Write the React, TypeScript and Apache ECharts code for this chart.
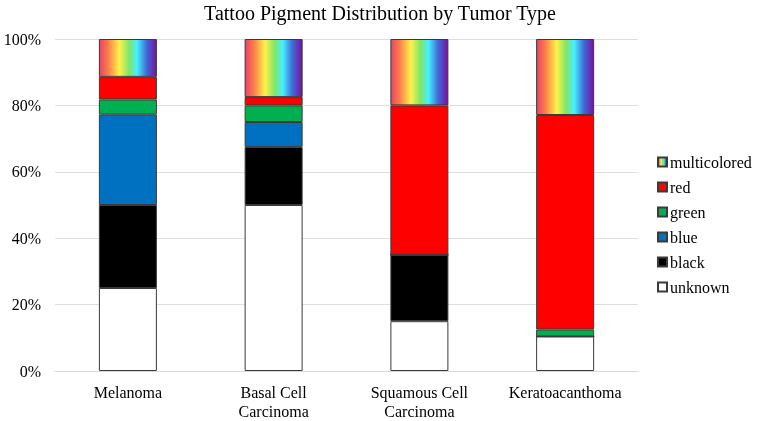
import React, { useEffect, useRef } from "react";
import * as echarts from "echarts";

const categories = ["Melanoma", "Basal Cell\nCarcinoma", "Squamous Cell\nCarcinoma", "Keratoacanthoma"];
const unknown = [25.0, 50.0, 15.0, 10.4];
const black = [25.0, 17.5, 20.0, 0];
const blue = [27.3, 7.5, 0, 0];
const green = [4.5, 5.0, 0, 2.1];
const red = [6.8, 2.5, 45.0, 64.6];
const multicolored = [11.4, 17.5, 20.0, 22.9];
const yTicks = [0, 20, 40, 60, 80, 100];

const rainbow = {
  type: "linear",
  x: 0,
  y: 0,
  x2: 1,
  y2: 0,
  colorStops: [
    { offset: 0, color: "#e2466a" },
    { offset: 0.15, color: "#ff7a4a" },
    { offset: 0.35, color: "#fff24a" },
    { offset: 0.52, color: "#7fe66a" },
    { offset: 0.66, color: "#46f0ff" },
    { offset: 0.83, color: "#3f6ad6" },
    { offset: 1, color: "#7a10a0" },
  ],
};

export default function App() {
  const ref = useRef<HTMLDivElement>(null);
  useEffect(() => {
    const chart = echarts.init(ref.current!, null, { renderer: "svg" });
    const font = "Liberation Serif";
    const mk = (name: string, data: number[], color: any) => ({
      name,
      type: "bar",
      stack: "total",
      data,
      barWidth: 58,
      itemStyle: { color, borderColor: "#3a3a3a", borderWidth: 1 },
    });
    chart.setOption({
      animation: false,
      textStyle: { fontFamily: font, color: "#000" },
      title: {
        text: "Tattoo Pigment Distribution by Tumor Type",
        left: 380,
        textAlign: "center",
        top: 3,
        padding: 0,
        textStyle: { fontFamily: font, fontSize: 20, fontWeight: "normal", color: "#000" },
      },
      legend: {
        orient: "vertical",
        left: 657,
        top: 154,
        padding: 0,
        itemWidth: 9,
        itemHeight: 9,
        itemGap: 9,
        icon: "rect",
        data: ["multicolored", "red", "green", "blue", "black", "unknown"],
        textStyle: { fontFamily: font, fontSize: 16, color: "#000", padding: [0, 0, 0, -2] },
      },
      grid: { left: 55, right: 121, top: 39, bottom: 48 },
      xAxis: {
        type: "category",
        data: categories,
        axisLine: { lineStyle: { color: "#d9d9d9", width: 1 } },
        axisTick: { show: false },
        axisLabel: { interval: 0, fontFamily: font, fontSize: 16, color: "#000", margin: 12, lineHeight: 19 },
      },
      yAxis: {
        type: "value",
        min: yTicks[0],
        max: yTicks[yTicks.length - 1],
        interval: 20,
        axisLine: { show: false },
        axisTick: { show: false },
        splitLine: { lineStyle: { color: "#dedede", width: 1 } },
        axisLabel: { fontFamily: font, fontSize: 16, color: "#000", margin: 14, formatter: "{value}%" },
      },
      series: [
        mk("unknown", unknown, "#ffffff"),
        mk("black", black, "#000000"),
        mk("blue", blue, "#0070c0"),
        mk("green", green, "#00b050"),
        mk("red", red, "#ff0000"),
        mk("multicolored", multicolored, rainbow),
      ],
    });
    return () => chart.dispose();
  }, []);
  return (
    <div
      ref={ref}
      style={{ position: "fixed", left: 0, top: 0, width: 759, height: 421 }}
    />
  );
}
